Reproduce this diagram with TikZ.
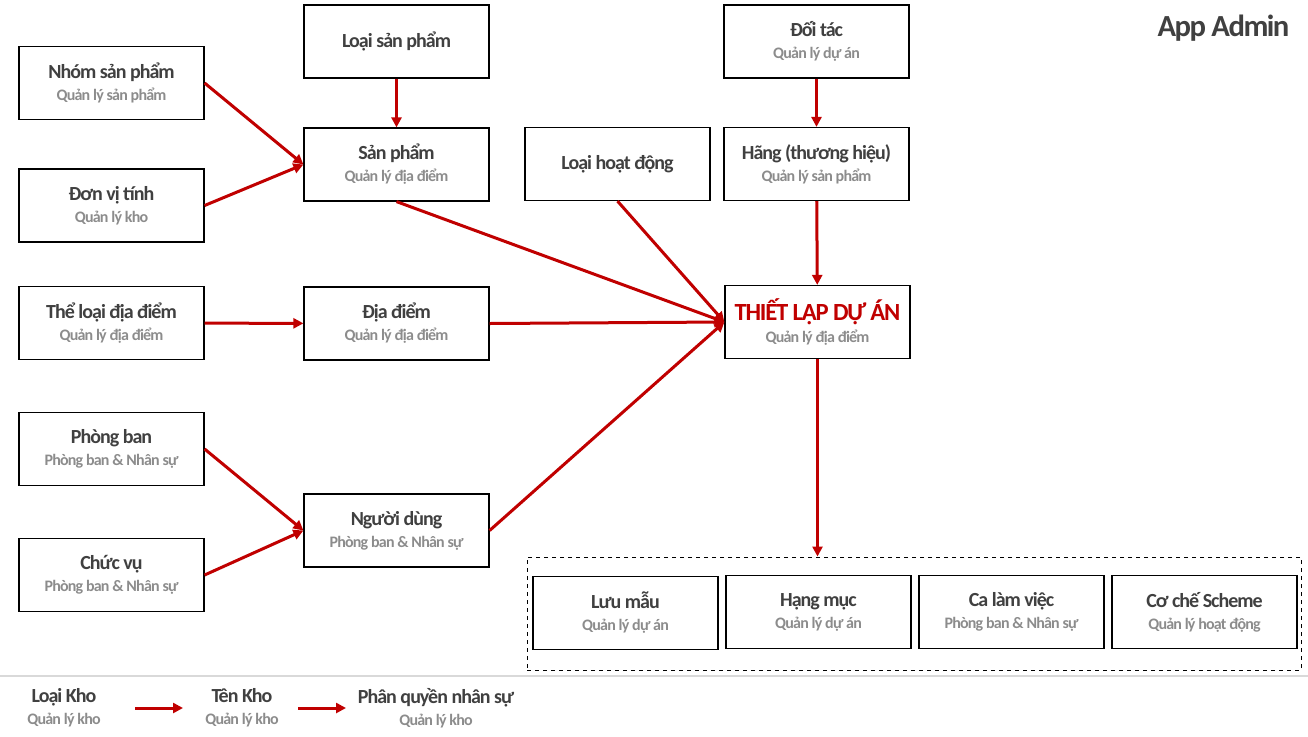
\documentclass[tikz,border=0pt]{standalone}
\usepackage{fontspec}
\setmainfont{Carlito}[LetterSpace=-5.0]
\usetikzlibrary{arrows.meta,positioning}
\definecolor{rougef}{HTML}{C00000}
\definecolor{texte}{HTML}{404040}
\definecolor{sousgris}{HTML}{8C8C8C}
\definecolor{ligne}{HTML}{D9D9D9}
\newcommand{\sousl}[1]{{\color{sousgris}\fontsize{12}{15}\selectfont #1}}

\begin{document}
\begin{tikzpicture}[
    x=0.75pt, y=-0.75pt,
    >={Triangle[length=7.5pt,width=7.5pt]},
    boite/.style={
        draw,
        line width=0.9pt,
        minimum width=138.75pt,
        minimum height=54.75pt,
        inner sep=0pt,
        align=center,
        text=texte,
        font=\bfseries\fontsize{15}{16.5}\selectfont
    },
    cadre/.style={
        draw,
        dashed,
        line width=0.75pt,
        minimum width=580.5pt,
        minimum height=84.75pt
    },
    legende/.style={
        align=center,
        inner sep=0pt,
        text=texte,
        font=\bfseries\fontsize{15}{16.5}\selectfont
    },
    fleche/.style={
        ->,
        draw=rougef,
        line width=2.25pt
    }
]
\useasboundingbox (0,0) rectangle (1308,736);

\node[font=\bfseries\fontsize{23}{26}\selectfont, text=texte, anchor=east] (titre) at (1294,28) {App Admin};

% colonne gauche
\node[boite] (nhom) at (111.5,83) {Nhóm sản phẩm\\\sousl{Quản lý sản phẩm}};
\node[boite] (donvi) at (111.5,205.5) {Đơn vị tính\\\sousl{Quản lý kho}};
\node[boite] (theloai) at (111.5,323) {Thể loại địa điểm\\\sousl{Quản lý địa điểm}};
\node[boite] (phongban) at (111.5,449) {Phòng ban\\\sousl{Phòng ban \& Nhân sự}};
\node[boite] (chucvu) at (111.5,575) {Chức vụ\\\sousl{Phòng ban \& Nhân sự}};

% colonne milieu
\node[boite] (loaisp) at (396.5,41.5) {Loại sản phẩm};
\node[boite] (sanpham) at (396.5,164.5) {Sản phẩm\\\sousl{Quản lý địa điểm}};
\node[boite] (diadiem) at (396.5,323.5) {Địa điểm\\\sousl{Quản lý địa điểm}};
\node[boite] (nguoidung) at (396.5,530.5) {Người dùng\\\sousl{Phòng ban \& Nhân sự}};

\node[boite] (loaihd) at (617.5,164) {Loại hoạt động};

% colonne droite
\node[boite] (doitac) at (816.5,41.5) {Đối tác\\\sousl{Quản lý dự án}};
\node[boite] (hang) at (816.5,164) {Hãng (thương hiệu)\\\sousl{Quản lý sản phẩm}};
\node[boite] (thietlap) at (817.5,322) {{\color{rougef}\fontsize{18.5}{18.5}\selectfont THIẾT LẬP DỰ ÁN}\\\sousl{Quản lý địa điểm}};

% groupe du bas
\node[cadre] (groupe) at (914,613.5) {};
\node[boite] (luumau) at (625.5,613) {Lưu mẫu\\\sousl{Quản lý dự án}};
\node[boite] (hangmuc) at (818.5,612) {Hạng mục\\\sousl{Quản lý dự án}};
\node[boite] (calam) at (1011.5,612) {Ca làm việc\\\sousl{Phòng ban \& Nhân sự}};
\node[boite] (coche) at (1204.5,612) {Cơ chế Scheme\\\sousl{Quản lý hoạt động}};

\draw[fleche] (nhom.east) -- (sanpham.west);
\draw[fleche] (donvi.east) -- (sanpham.west);
\draw[fleche] (loaisp) -- (sanpham);
\draw[fleche] (theloai) -- (diadiem);
\draw[fleche] (phongban.east) -- (nguoidung.west);
\draw[fleche] (chucvu.east) -- (nguoidung.west);

\draw[fleche] (sanpham.south) -- (thietlap.west);
\draw[fleche] (loaihd.south) -- (thietlap.west);
\draw[fleche] (diadiem.east) -- (thietlap.west);
\draw[fleche] (nguoidung.east) -- (thietlap.west);
\draw[fleche] (doitac) -- (hang);
\draw[fleche] (hang) -- (thietlap);
\draw[fleche] (thietlap.south) -- (thietlap.south |- groupe.north);

% legende
\draw[ligne, line width=1.1pt] (0,676) -- (1308,676);
\node[legende] (loaikho) at (64,708) {Loại Kho\\\sousl{Quản lý kho}};
\node[legende] (tenkho) at (242,708) {Tên Kho\\\sousl{Quản lý kho}};
\node[legende] (phanquyen) at (436,708) {Phân quyền nhân sự\\\sousl{Quản lý kho}};
\draw[fleche, shorten <=53.25pt, shorten >=44.25pt] (loaikho.center) -- (tenkho.center);
\draw[fleche, shorten <=42pt, shorten >=67.5pt] (tenkho.center) -- (phanquyen.center);

\end{tikzpicture}
\end{document}
